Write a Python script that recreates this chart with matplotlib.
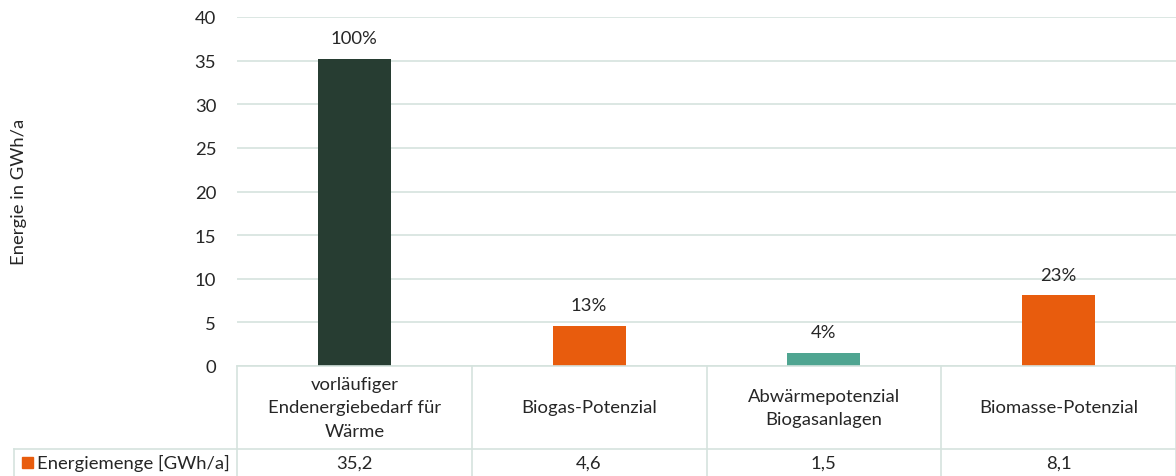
import matplotlib
matplotlib.use("Agg")
import matplotlib.pyplot as plt

categories = ["vorläufiger\nEndenergiebedarf für\nWärme", "Biogas-Potenzial",
              "Abwärmepotenzial\nBiogasanlagen", "Biomasse-Potenzial"]
values = [35.2, 4.6, 1.5, 8.1]
value_labels = ["35,2", "4,6", "1,5", "8,1"]
colors = ["#273d32", "#e85c0d", "#4fa591", "#e85c0d"]
series_name = "Energiemenge [GWh/a]"
yticks = [0, 5, 10, 15, 20, 25, 30, 35, 40]

plt.rcParams['font.family'] = ['Lato', 'DejaVu Sans']
text_color = "#262626"
grid_color = "#d5e3de"
fs = 13.3

fig = plt.figure(figsize=(11.76, 4.77), dpi=100)
ax = fig.add_axes([237/1176, 1 - 367/477, 939/1176, 349/477])

x = range(len(values))
bars = ax.bar(x, values, width=0.31, color=colors, zorder=3)

total = values[0]
for i, v in enumerate(values):
    ax.annotate("{:.0f}%".format(v / total * 100), (i, v), xytext=(0, 9),
                textcoords="offset points", ha="center", va="bottom",
                fontsize=fs, color=text_color)

ax.set_xlim(-0.5, 3.5)
ax.set_ylim(0, 40)
ax.set_yticks(yticks)
ax.set_yticklabels([str(t) for t in yticks], fontsize=fs, color=text_color)
ax.tick_params(axis="y", length=0, pad=15)
ax.tick_params(axis="x", length=0, labelbottom=False)
ax.yaxis.grid(True, color=grid_color, lw=1.2, zorder=0)
for s in ax.spines.values():
    s.set_visible(False)
fig.text(19/1176, 1 - 192/477, "Energie in GWh/a", rotation=90, ha="center",
         va="center", fontsize=fs, color=text_color)

# data table below the axes
tr = ax.get_xaxis_transform()
h = 349.0
row1 = -(450 - 367) / h
row2 = -(477 - 367) / h
left = (14 - 237) / 234.75 - 0.5
lw = 1.2
ax.plot([-0.5, 3.5], [0, 0], transform=tr, color=grid_color, lw=lw, clip_on=False, zorder=4)
ax.plot([left, 3.5], [row1, row1], transform=tr, color=grid_color, lw=lw, clip_on=False)
ax.plot([left, left], [row1, row2], transform=tr, color=grid_color, lw=lw, clip_on=False)
for b in [-0.5, 0.5, 1.5, 2.5, 3.5]:
    ax.plot([b, b], [0, row2], transform=tr, color=grid_color, lw=lw, clip_on=False)

for i, (c, vl) in enumerate(zip(categories, value_labels)):
    ax.text(i, row1 / 2, c, transform=tr, ha="center", va="center",
            fontsize=fs, color=text_color, linespacing=1.6)
    ax.text(i, (row1 + row2) / 2, vl, transform=tr, ha="center", va="center",
            fontsize=fs, color=text_color)

fig.patches.append(plt.Rectangle((22/1176, 1 - 469/477), 11/1176, 11/477,
                                 transform=fig.transFigure, color="#e85c0d"))
fig.text(37/1176, 1 - 463/477, series_name, ha="left", va="center",
         fontsize=fs, color=text_color)

fig.savefig("out.png", dpi=100)
